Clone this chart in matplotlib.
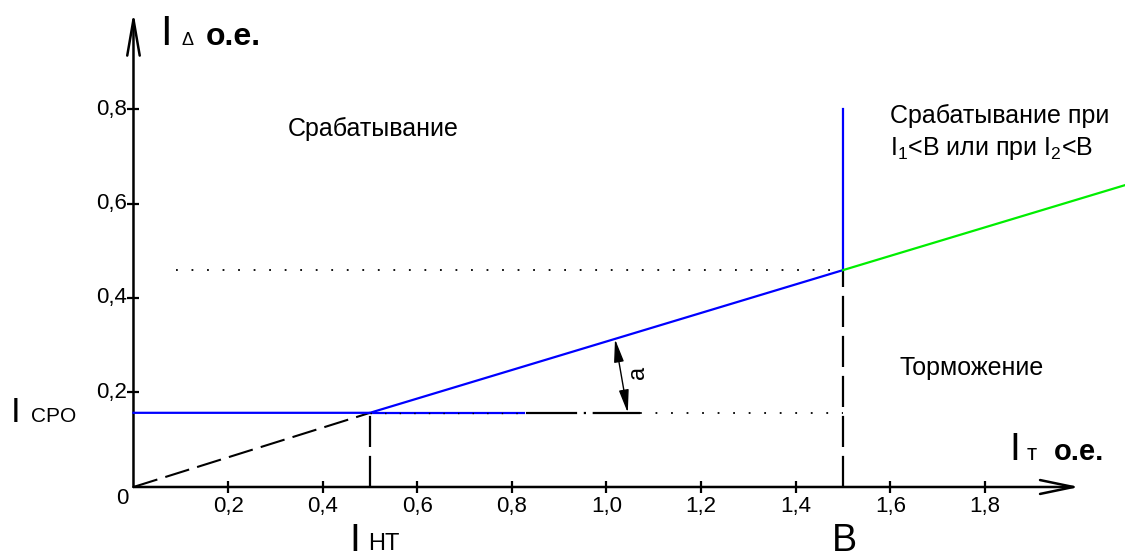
import matplotlib.pyplot as plt
from matplotlib.transforms import offset_copy

plt.rcParams['font.family'] = ['Liberation Sans', 'DejaVu Sans']
plt.rcParams['mathtext.fontset'] = 'custom'
plt.rcParams['mathtext.rm'] = 'Liberation Sans'
plt.rcParams['mathtext.it'] = 'Liberation Sans'

# ---------------- данные ----------------
x_ticks = [0.2, 0.4, 0.6, 0.8, 1.0, 1.2, 1.4, 1.6, 1.8]
x_tick_labels = ['0,2', '0,4', '0,6', '0,8', '1,0', '1,2', '1,4', '1,6', '1,8']
y_ticks = [0.2, 0.4, 0.6, 0.8]
y_tick_labels = ['0,2', '0,4', '0,6', '0,8']

I_cpo = 0.157      # ток срабатывания
I_nt = 0.5         # начало торможения
B = 1.5            # уставка B
I_B = 0.459        # ток при IT = B

# характеристика (синяя)
char_x = [0.0, 0.5, 1.5, 1.5]
char_y = [0.157, 0.157, 0.459, 0.8]
# продолжение горизонтали
ext_x = [0.5, 0.826]
ext_y = [0.157, 0.157]
# зелёный участок
green_x = [1.5, 2.1]
green_y = [0.459, 0.640]
# штриховая линия из нуля
dash_x = [0.0, 0.5]
dash_y = [0.0, 0.157]
# штрихпунктир
dashdot_x = [0.83, 1.07]
# угол a
angle_top = (1.018, 0.313)
angle_bot = (1.045, 0.157)

W, H = 1125, 559
fig = plt.figure(figsize=(W / 100, H / 100), dpi=100)
ax = fig.add_axes([0, 0, 1, 1])
ax.set_xlim(-0.2822, 2.0962)
ax.set_ylim(-0.1524, 1.0307)
ax.axis('off')

# оси со стрелками
ax.annotate('', xy=(0, 1.005), xytext=(0, 0),
            arrowprops=dict(arrowstyle='->,head_length=2.6,head_width=0.45',
                            lw=1.8, color='black', shrinkA=0, shrinkB=0))
ax.annotate('', xy=(2.0, 0), xytext=(0, 0),
            arrowprops=dict(arrowstyle='->,head_length=2.4,head_width=0.5',
                            lw=1.8, color='black', shrinkA=0, shrinkB=0))

ax.plot(x_ticks, [0] * len(x_ticks), ls='none', marker='|', ms=8, mew=1.6, color='black')
ax.plot([0] * len(y_ticks), y_ticks, ls='none', marker='_', ms=8, mew=1.6, color='black')

tr_x = offset_copy(ax.transData, fig=fig, x=0, y=-9, units='dots')
for xv, lab in zip(x_ticks, x_tick_labels):
    ax.text(xv, 0, lab, transform=tr_x, ha='center', va='top', fontsize=16)
tr_y = offset_copy(ax.transData, fig=fig, x=-6, y=0, units='dots')
for yv, lab in zip(y_ticks, y_tick_labels):
    ax.text(0, yv, lab, transform=tr_y, ha='right', va='center', fontsize=16)
tr_0 = offset_copy(ax.transData, fig=fig, x=-5, y=-1, units='dots')
ax.text(0, 0, '0', transform=tr_0, ha='right', va='top', fontsize=16)

# линии
ax.plot(dash_x, dash_y, color='black', lw=1.5, ls=(0, (12, 4)), zorder=2)
ax.plot([I_nt, I_nt], [0, I_cpo], color='black', lw=1.6, ls=(0, (14, 4)), zorder=2)
ax.plot([B, B], [0, I_B], color='black', lw=1.6, ls=(0, (14, 4)), zorder=2)
ax.plot(dashdot_x, [I_cpo, I_cpo], color='black', lw=1.6, ls=(0, (23, 3, 1, 3)), zorder=2)
ax.plot([1.07, B], [I_cpo, I_cpo], color='black', lw=1.3, ls=(0, (1, 7.6)), zorder=2)
ax.plot([0.09, B], [I_B, I_B], color='black', lw=1.3, ls=(0, (1, 7.6)), zorder=2)

ax.plot(char_x, char_y, color='#0000ff', lw=1.6, zorder=3)
ax.plot(ext_x, ext_y, color='#0000ff', lw=1.6, zorder=3)
ax.plot(green_x, green_y, color='#00ee00', lw=1.6, zorder=3)
ax.plot([I_nt, 0.83], [I_cpo, I_cpo], color='black', lw=1.0, ls=(0, (1, 9.5)), zorder=4)

ax.annotate('', xy=angle_top, xytext=angle_bot,
            arrowprops=dict(arrowstyle='<|-|>,head_length=1.4,head_width=0.3',
                            lw=1.0, color='black', shrinkA=0, shrinkB=0))
ax.text(1.067, 0.243, 'a', rotation=90, ha='center', va='center', fontsize=17)


def ptext(x, y, s, size, **kw):
    fig.text(x / W, 1 - y / H, s, fontsize=size, ha='left', va='baseline', **kw)


ptext(160, 45, 'I', 30)
ptext(181, 45, 'Δ', 13)
ptext(206, 45, 'o.e.', 23, fontweight='bold')

ptext(1009, 460, 'I', 28)
ptext(1027, 460, 'т', 16)
ptext(1054, 460, 'o.e.', 21, fontweight='bold')

ptext(11, 422, 'I', 25)
ptext(31, 422, 'CPO', 15)

ptext(349, 551, 'I', 28)
ptext(368, 550, 'HT', 17)

ptext(832, 551, 'B', 27)

ptext(288, 136, 'Срабатывание', 18)
ptext(890, 123, 'Срабатывание при', 18)
ptext(890, 155, r'I$_1$<B или при I$_2$<B', 18)
ptext(900, 375, 'Торможение', 18)

plt.savefig('out.png', dpi=100)
